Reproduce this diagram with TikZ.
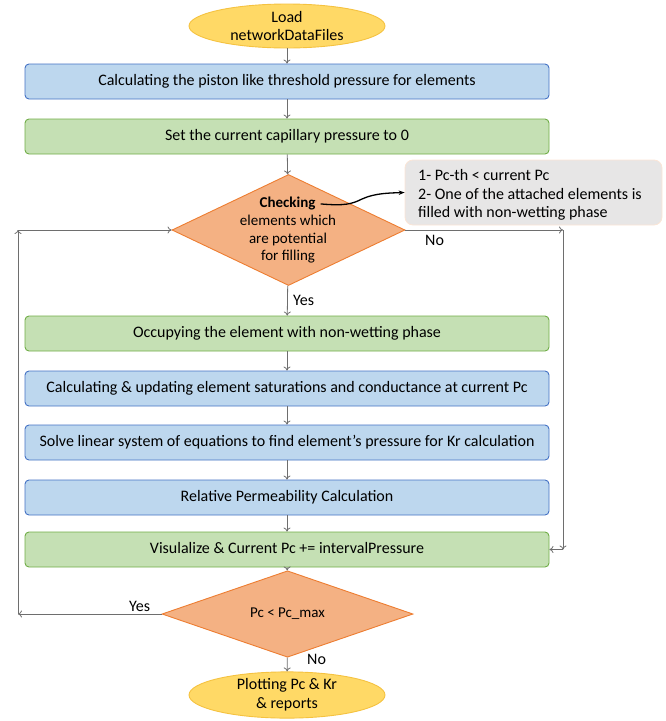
\documentclass[tikz,border=0pt]{standalone}
\usepackage{fontspec}
\setmainfont{Carlito}
\usetikzlibrary{shapes.geometric,arrows.meta}
\definecolor{termfill}{HTML}{FFD966}
\definecolor{termdraw}{HTML}{F5C240}
\definecolor{bluefill}{HTML}{BDD7EE}
\definecolor{bluedraw}{HTML}{4472C4}
\definecolor{greenfill}{HTML}{C5E0B4}
\definecolor{greendraw}{HTML}{70AD47}
\definecolor{condfill}{HTML}{F4B183}
\definecolor{conddraw}{HTML}{ED7D31}
\definecolor{notefill}{HTML}{E7E6E6}
\definecolor{notedraw}{HTML}{FBE5D6}
\definecolor{linegray}{HTML}{6E6E6E}

\begin{document}
\begin{tikzpicture}[x=1pt,y=-1pt,
    font=\fontsize{16}{19}\selectfont,
    term/.style={ellipse,fill=termfill,draw=termdraw,line width=0.9pt,minimum width=196pt,minimum height=44pt,inner sep=0pt,align=center},
    blue/.style={rectangle,rounded corners=4pt,fill=bluefill,draw=bluedraw,line width=0.9pt,minimum width=524pt,minimum height=35pt,text height=11pt,text depth=3pt},
    green/.style={rectangle,rounded corners=4pt,fill=greenfill,draw=greendraw,line width=0.9pt,minimum width=524pt,minimum height=35pt,text height=11pt,text depth=3pt},
    cond/.style={diamond,fill=condfill,draw=conddraw,line width=0.9pt,inner sep=0pt},
    flow/.style={draw=linegray,line width=0.8pt,-{To[length=4pt,width=7pt]}},
    lbl/.style={inner sep=0pt,anchor=west}
    ]
    \useasboundingbox (0,0) rectangle (666,721);

    \node[term] (load) at (287,26) {Load\\networkDataFiles};
    \node[blue] (thres) at (287,81.5) {Calculating the piston like threshold pressure for elements};
    \node[green] (zero) at (287,136.5) {Set the current capillary pressure to 0};
    \node[cond,minimum width=233pt,minimum height=111pt] (check) at (288.5,230) {};
    \node[inner sep=0pt,font=\fontsize{15}{18}\selectfont\bfseries] (chk) at (287.5,203.5) {Checking};
    \node[inner sep=0pt,align=center,font=\fontsize{15}{17.5}\selectfont] (chktext) at (288,239.5) {elements which\\are potential\\for filling};
    \node[rectangle,rounded corners=8pt,fill=notefill,draw=notedraw,line width=0.8pt,minimum width=257pt,minimum height=65pt] (note) at (533.5,192.5) {};
    \node[inner sep=0pt,align=left,anchor=north west,font=\fontsize{16}{18.7}\selectfont] (notetext) at (418,169) {1- Pc-th < current Pc\\2- One of the attached elements is\\filled with non-wetting phase};
    \node[green] (occ) at (287,333.5) {Occupying the element with non-wetting phase};
    \node[blue] (sat) at (287,388.5) {Calculating \& updating element saturations and conductance at current Pc};
    \node[blue] (solve) at (287,442.5) {Solve linear system of equations to find element’s pressure for Kr calculation};
    \node[blue] (relperm) at (287,497.5) {Relative Permeability Calculation};
    \node[green] (vis) at (287,549.5) {Visulalize \& Current Pc += intervalPressure};
    \node[cond,minimum width=251pt,minimum height=74pt,font=\fontsize{15}{18}\selectfont] (pcmax) at (287.5,614) {Pc < Pc\_max};
    \node[term] (plot) at (287,695) {Plotting Pc \& Kr\\\& reports};

    \coordinate (r1) at (563,230);
    \coordinate (r2) at (563,549.5);
    \coordinate (l1) at (18,230);
    \coordinate (l2) at (18,614);

    \draw[flow] (load) -- (thres);
    \draw[flow] (thres) -- (zero);
    \draw[flow] (zero) -- (check);
    \draw[flow] (check) -- (occ);
    \draw[flow] (occ) -- (sat);
    \draw[flow] (sat) -- (solve);
    \draw[flow] (solve) -- (relperm);
    \draw[flow] (relperm) -- (vis);
    \draw[flow] (vis) -- (pcmax);
    \draw[flow] (pcmax) -- (plot);
    \draw[flow] (check.east) -- (r1);
    \draw[flow] (r1) -- (r2);
    \draw[flow] (r2) -- (vis.east);
    \draw[flow] (pcmax.west) -- (l2);
    \draw[flow] (l2) -- (l1);
    \draw[flow] (l1) -- (check.west);
    \draw[line width=1.3pt,shorten <=5pt,-{Stealth[length=6pt]}] (chk.east) .. controls (345,206) and (352,204) .. (362,199) .. controls (375,193) and (390,193) .. (note.west);

    \node[lbl] (no1) at (425,240) {No};
    \node[lbl] (yes1) at (293,300) {Yes};
    \node[lbl] (yes2) at (129,606) {Yes};
    \node[lbl] (no2) at (307,659) {No};
  \end{tikzpicture}
\end{document}
